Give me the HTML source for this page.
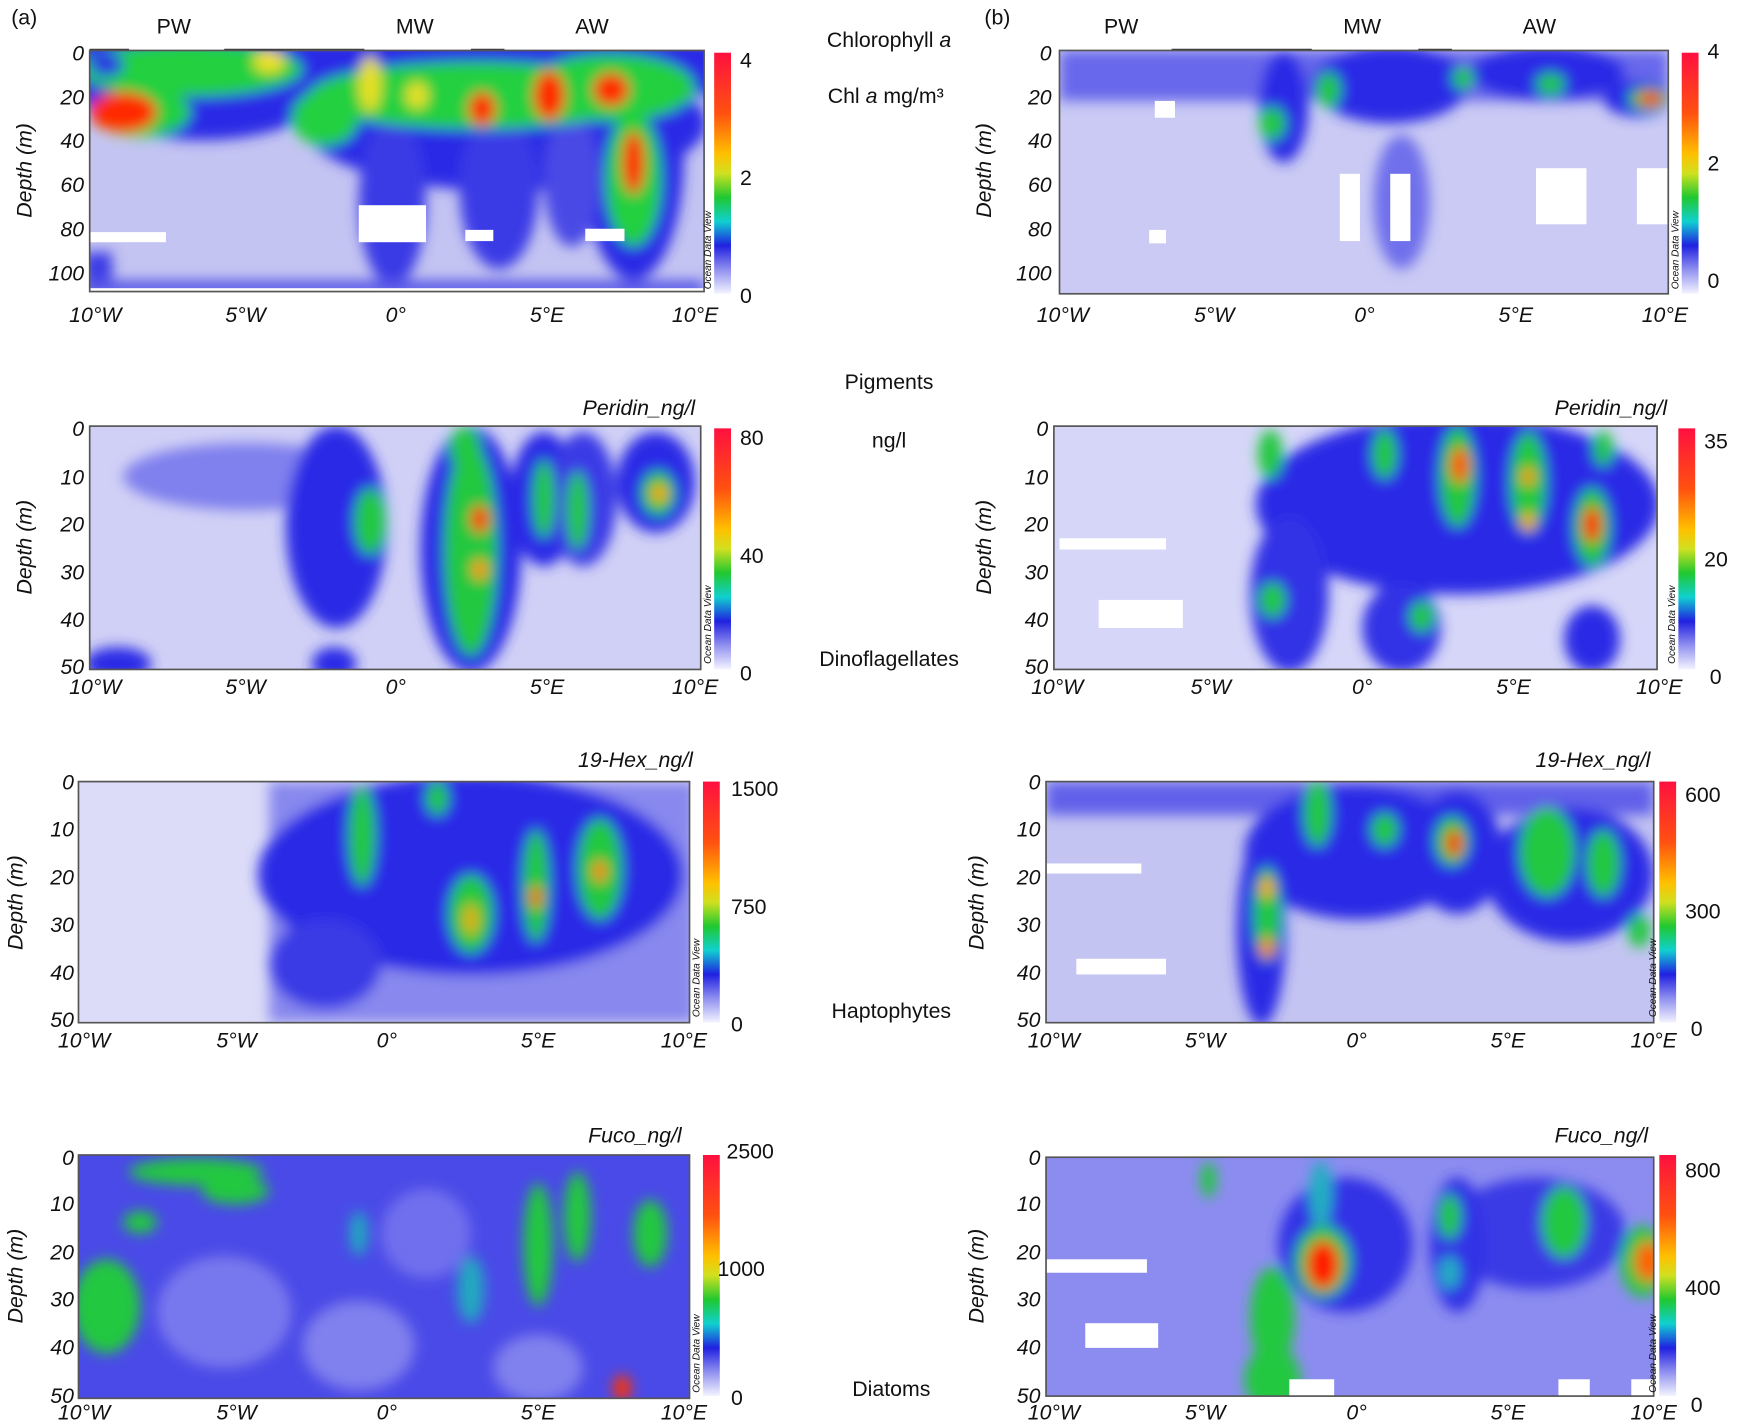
<!DOCTYPE html>
<html><head><meta charset="utf-8"><style>
html,body{margin:0;padding:0;background:#fff;}
svg{display:block;}
text{font-family:"Liberation Sans",Arial,sans-serif;fill:#111;}
.t{font-size:19px;font-style:italic;}
.c{font-size:19px;}
.o{font-size:9px;font-style:italic;}
</style></head><body>
<svg width="1749" height="1423" viewBox="0 0 1560 1269" preserveAspectRatio="none" xmlns="http://www.w3.org/2000/svg">
<defs>
<filter id="b" x="-20%" y="-20%" width="140%" height="140%"><feGaussianBlur stdDeviation="6"/></filter>
<linearGradient id="cb" x1="0" y1="0" x2="0" y2="1">
<stop offset="0" stop-color="#ff1040"/><stop offset="0.25" stop-color="#ff5010"/><stop offset="0.42" stop-color="#ffc000"/>
<stop offset="0.5" stop-color="#d0e020"/><stop offset="0.6" stop-color="#20c830"/><stop offset="0.7" stop-color="#10d0d0"/>
<stop offset="0.8" stop-color="#2020e0"/><stop offset="0.9" stop-color="#9090f0"/><stop offset="1" stop-color="#f4f4ff"/>
</linearGradient>
<clipPath id="p1"><rect x="80" y="45" width="548" height="215"/></clipPath>
<clipPath id="p2"><rect x="80" y="380" width="545" height="217"/></clipPath>
<clipPath id="p3"><rect x="70" y="697" width="545" height="215"/></clipPath>
<clipPath id="p4"><rect x="70" y="1030" width="545" height="217"/></clipPath>
<clipPath id="q1"><rect x="945" y="45" width="543" height="217"/></clipPath>
<clipPath id="q2"><rect x="940" y="380" width="538" height="217"/></clipPath>
<clipPath id="q3"><rect x="933" y="697" width="542" height="215"/></clipPath>
<clipPath id="q4"><rect x="933" y="1032" width="542" height="213"/></clipPath>
</defs>

<text x="10" y="22" class="c">(a)</text>
<text x="155" y="30" class="c" text-anchor="middle">PW</text>
<text x="370" y="30" class="c" text-anchor="middle">MW</text>
<text x="528" y="30" class="c" text-anchor="middle">AW</text>
<text x="878" y="22" class="c">(b)</text>
<text x="1000" y="30" class="c" text-anchor="middle">PW</text>
<text x="1215" y="30" class="c" text-anchor="middle">MW</text>
<text x="1373" y="30" class="c" text-anchor="middle">AW</text>
<g stroke="#333" stroke-width="3"><line x1="80" y1="45" x2="115" y2="45"/><line x1="200" y1="45" x2="325" y2="45"/><line x1="420" y1="45" x2="450" y2="45"/><line x1="1045" y1="45" x2="1170" y2="45"/><line x1="1265" y1="45" x2="1295" y2="45"/></g>

<text x="793" y="42" class="c" text-anchor="middle">Chlorophyll <tspan font-style="italic">a</tspan></text>
<text x="790" y="92" class="c" text-anchor="middle">Chl <tspan font-style="italic">a</tspan> mg/m³</text>
<text x="793" y="347" class="c" text-anchor="middle">Pigments</text>
<text x="793" y="399" class="c" text-anchor="middle">ng/l</text>
<text x="793" y="594" class="c" text-anchor="middle">Dinoflagellates</text>
<text x="795" y="908" class="c" text-anchor="middle">Haptophytes</text>
<text x="795" y="1245" class="c" text-anchor="middle">Diatoms</text>

<text x="620" y="370" class="t" text-anchor="end">Peridin_ng/l</text>
<text x="1487" y="370" class="t" text-anchor="end">Peridin_ng/l</text>
<text x="618" y="684" class="t" text-anchor="end">19-Hex_ng/l</text>
<text x="1472" y="684" class="t" text-anchor="end">19-Hex_ng/l</text>
<text x="608" y="1019" class="t" text-anchor="end">Fuco_ng/l</text>
<text x="1470" y="1019" class="t" text-anchor="end">Fuco_ng/l</text>

<!-- PANEL a1 -->
<g clip-path="url(#p1)">
<rect x="80" y="45" width="548" height="215" fill="#c4c4f2"/>
<g filter="url(#b)">
<rect x="70" y="35" width="570" height="50" fill="#2a2ae6"/>
<ellipse cx="180" cy="80" rx="110" ry="45" fill="#2a2ae6"/>
<ellipse cx="450" cy="110" rx="180" ry="60" fill="#2a2ae6"/>
<ellipse cx="565" cy="140" rx="45" ry="110" fill="#2a2ae6"/>
<ellipse cx="350" cy="180" rx="30" ry="75" fill="#3a3ae6"/>
<ellipse cx="445" cy="170" rx="35" ry="70" fill="#3a3ae6"/>
<ellipse cx="510" cy="160" rx="25" ry="60" fill="#4a4ae6"/>
<rect x="75" y="225" width="25" height="40" fill="#3a3ae6"/>
<rect x="80" y="250" width="548" height="15" fill="#5a5ae8"/>
<ellipse cx="170" cy="62" rx="100" ry="24" fill="#20d040"/>
<ellipse cx="125" cy="100" rx="45" ry="22" fill="#20d040"/>
<ellipse cx="425" cy="85" rx="150" ry="30" fill="#20d040"/>
<ellipse cx="290" cy="105" rx="30" ry="25" fill="#20d040"/>
<ellipse cx="545" cy="78" rx="75" ry="30" fill="#20d040"/>
<ellipse cx="565" cy="160" rx="25" ry="60" fill="#20d040"/>
<ellipse cx="240" cy="55" rx="14" ry="10" fill="#f0e020"/>
<ellipse cx="330" cy="75" rx="10" ry="25" fill="#e8e020"/>
<ellipse cx="372" cy="85" rx="10" ry="12" fill="#e8e020"/>
<ellipse cx="110" cy="100" rx="30" ry="18" fill="#ff2a00"/>
<ellipse cx="430" cy="97" rx="12" ry="15" fill="#ff2a00"/>
<ellipse cx="490" cy="85" rx="14" ry="22" fill="#ff2a00"/>
<ellipse cx="545" cy="80" rx="16" ry="15" fill="#ff2a00"/>
<ellipse cx="565" cy="145" rx="10" ry="28" fill="#ff2a00"/>
<ellipse cx="95" cy="58" rx="15" ry="10" fill="#2a2ae6"/>
</g>
<g fill="#fff"><rect x="80" y="207" width="68" height="9"/><rect x="320" y="183" width="60" height="33"/><rect x="415" y="205" width="25" height="10"/><rect x="522" y="204" width="35" height="11"/><rect x="80" y="257" width="548" height="5"/></g>
</g>
<rect x="80" y="45" width="548" height="215" fill="none" stroke="#555" stroke-width="1.5"/>

<!-- PANEL a2 -->
<g clip-path="url(#p2)">
<rect x="80" y="380" width="545" height="217" fill="#d0d0f6"/>
<g filter="url(#b)">
<ellipse cx="220" cy="425" rx="110" ry="30" fill="#8080ee"/>
<ellipse cx="300" cy="470" rx="45" ry="90" fill="#2a2ae6"/>
<ellipse cx="420" cy="490" rx="45" ry="110" fill="#2a2ae6"/>
<ellipse cx="485" cy="445" rx="30" ry="60" fill="#2a2ae6"/>
<ellipse cx="520" cy="445" rx="30" ry="60" fill="#3a3ae6"/>
<ellipse cx="585" cy="430" rx="35" ry="45" fill="#2a2ae6"/>
<ellipse cx="105" cy="592" rx="30" ry="15" fill="#2a2ae6"/>
<ellipse cx="298" cy="592" rx="20" ry="15" fill="#2a2ae6"/>
<ellipse cx="420" cy="490" rx="24" ry="95" fill="#20c840"/>
<ellipse cx="415" cy="400" rx="14" ry="20" fill="#20c840"/>
<ellipse cx="330" cy="465" rx="14" ry="30" fill="#20c840"/>
<ellipse cx="485" cy="445" rx="10" ry="35" fill="#20c840"/>
<ellipse cx="515" cy="455" rx="10" ry="35" fill="#20c840"/>
<ellipse cx="587" cy="440" rx="15" ry="20" fill="#20c840"/>
<ellipse cx="428" cy="463" rx="8" ry="12" fill="#ff2a00"/>
<ellipse cx="428" cy="508" rx="7" ry="9" fill="#ff9000"/>
<ellipse cx="588" cy="440" rx="7" ry="8" fill="#ffa000"/>
</g></g>
<rect x="80" y="380" width="545" height="217" fill="none" stroke="#555" stroke-width="1.5"/>

<!-- PANEL a3 -->
<g clip-path="url(#p3)">
<rect x="70" y="697" width="545" height="215" fill="#dcdcf8"/>
<g filter="url(#b)">
<rect x="240" y="697" width="380" height="215" fill="#8888ee"/>
<ellipse cx="420" cy="780" rx="190" ry="90" fill="#2a2ae6"/>
<ellipse cx="290" cy="860" rx="50" ry="40" fill="#3a3ae6"/>
<ellipse cx="323" cy="745" rx="12" ry="45" fill="#20c840"/>
<ellipse cx="420" cy="815" rx="20" ry="35" fill="#20c840"/>
<ellipse cx="478" cy="790" rx="12" ry="50" fill="#20c840"/>
<ellipse cx="535" cy="775" rx="20" ry="45" fill="#20c840"/>
<ellipse cx="390" cy="712" rx="10" ry="15" fill="#20c840"/>
<ellipse cx="420" cy="820" rx="7" ry="14" fill="#e0b000"/>
<ellipse cx="478" cy="800" rx="5" ry="10" fill="#ff5000"/>
<ellipse cx="535" cy="777" rx="6" ry="10" fill="#ff8000"/>
</g></g>
<rect x="70" y="697" width="545" height="215" fill="none" stroke="#555" stroke-width="1.5"/>

<!-- PANEL a4 -->
<g clip-path="url(#p4)">
<rect x="70" y="1030" width="545" height="217" fill="#4a4ae8"/>
<g filter="url(#b)">
<ellipse cx="200" cy="1170" rx="60" ry="50" fill="#7878ee"/>
<ellipse cx="320" cy="1200" rx="50" ry="40" fill="#8080ee"/>
<ellipse cx="380" cy="1100" rx="40" ry="40" fill="#7070ee"/>
<ellipse cx="480" cy="1220" rx="40" ry="30" fill="#8080ee"/>
<ellipse cx="95" cy="1165" rx="30" ry="42" fill="#20c840"/>
<ellipse cx="175" cy="1045" rx="60" ry="12" fill="#20c840"/>
<ellipse cx="210" cy="1062" rx="30" ry="12" fill="#20c840"/>
<ellipse cx="125" cy="1090" rx="15" ry="10" fill="#20c840"/>
<ellipse cx="480" cy="1110" rx="13" ry="55" fill="#20c840"/>
<ellipse cx="515" cy="1085" rx="12" ry="40" fill="#20c840"/>
<ellipse cx="580" cy="1100" rx="15" ry="30" fill="#20c840"/>
<ellipse cx="420" cy="1150" rx="12" ry="30" fill="#20a8c0"/>
<ellipse cx="320" cy="1100" rx="8" ry="20" fill="#20a8c0"/>
<ellipse cx="555" cy="1238" rx="8" ry="12" fill="#ff3000"/>
</g></g>
<rect x="70" y="1030" width="545" height="217" fill="none" stroke="#555" stroke-width="1.5"/>

<!-- PANEL b1 -->
<g clip-path="url(#q1)">
<rect x="945" y="45" width="543" height="217" fill="#cacaf4"/>
<g filter="url(#b)">
<rect x="945" y="45" width="543" height="45" fill="#6868ec"/>
<ellipse cx="1145" cy="95" rx="22" ry="50" fill="#2a2ae6"/>
<ellipse cx="1240" cy="75" rx="70" ry="35" fill="#2a2ae6"/>
<ellipse cx="1250" cy="180" rx="25" ry="60" fill="#7070ec"/>
<ellipse cx="1380" cy="65" rx="70" ry="25" fill="#2a2ae6"/>
<ellipse cx="1460" cy="88" rx="30" ry="16" fill="#2a2ae6"/>
<ellipse cx="1135" cy="110" rx="12" ry="15" fill="#20c840"/>
<ellipse cx="1185" cy="80" rx="11" ry="16" fill="#20c840"/>
<ellipse cx="1305" cy="70" rx="10" ry="10" fill="#20c840"/>
<ellipse cx="1383" cy="75" rx="13" ry="10" fill="#20c840"/>
<ellipse cx="1470" cy="88" rx="18" ry="10" fill="#20c840"/>
<ellipse cx="1472" cy="88" rx="11" ry="6" fill="#ff2a00"/>
</g>
<g fill="#fff"><rect x="1030" y="90" width="18" height="15"/><rect x="1195" y="155" width="18" height="60"/><rect x="1240" y="155" width="18" height="60"/><rect x="1370" y="150" width="45" height="50"/><rect x="1460" y="150" width="28" height="50"/><rect x="1025" y="205" width="15" height="12"/></g>
</g>
<rect x="945" y="45" width="543" height="217" fill="none" stroke="#555" stroke-width="1.5"/>

<!-- PANEL b2 -->
<g clip-path="url(#q2)">
<rect x="940" y="380" width="538" height="217" fill="#d6d6f8"/>
<g filter="url(#b)">
<ellipse cx="1300" cy="450" rx="180" ry="80" fill="#2a2ae6"/>
<ellipse cx="1150" cy="530" rx="35" ry="70" fill="#3030e6"/>
<ellipse cx="1420" cy="570" rx="25" ry="30" fill="#2a2ae6"/>
<ellipse cx="1250" cy="560" rx="35" ry="40" fill="#3030e6"/>
<ellipse cx="1133" cy="405" rx="11" ry="22" fill="#20c840"/>
<ellipse cx="1235" cy="405" rx="11" ry="22" fill="#20c840"/>
<ellipse cx="1300" cy="425" rx="16" ry="45" fill="#20c840"/>
<ellipse cx="1363" cy="430" rx="16" ry="45" fill="#20c840"/>
<ellipse cx="1420" cy="470" rx="16" ry="35" fill="#20c840"/>
<ellipse cx="1430" cy="400" rx="9" ry="16" fill="#20c840"/>
<ellipse cx="1135" cy="535" rx="12" ry="16" fill="#20c840"/>
<ellipse cx="1268" cy="550" rx="11" ry="14" fill="#20c840"/>
<ellipse cx="1302" cy="415" rx="8" ry="16" fill="#ff5000"/>
<ellipse cx="1420" cy="468" rx="8" ry="16" fill="#ff1a00"/>
<ellipse cx="1363" cy="425" rx="6" ry="8" fill="#ff9000"/>
<ellipse cx="1363" cy="465" rx="6" ry="8" fill="#ffa000"/>
</g>
<g fill="#fff"><rect x="945" y="480" width="95" height="10"/><rect x="980" y="535" width="75" height="25"/></g>
</g>
<rect x="940" y="380" width="538" height="217" fill="none" stroke="#555" stroke-width="1.5"/>

<!-- PANEL b3 -->
<g clip-path="url(#q3)">
<rect x="933" y="697" width="542" height="215" fill="#c4c4f2"/>
<g filter="url(#b)">
<rect x="933" y="697" width="542" height="30" fill="#6060ea"/>
<ellipse cx="1210" cy="760" rx="100" ry="60" fill="#2a2ae6"/>
<ellipse cx="1300" cy="760" rx="40" ry="55" fill="#2a2ae6"/>
<ellipse cx="1400" cy="780" rx="75" ry="60" fill="#2a2ae6"/>
<ellipse cx="1125" cy="830" rx="22" ry="85" fill="#2a2ae6"/>
<ellipse cx="1175" cy="725" rx="12" ry="30" fill="#20c840"/>
<ellipse cx="1235" cy="740" rx="12" ry="15" fill="#20c840"/>
<ellipse cx="1295" cy="750" rx="15" ry="22" fill="#20c840"/>
<ellipse cx="1380" cy="760" rx="25" ry="40" fill="#20c840"/>
<ellipse cx="1430" cy="770" rx="15" ry="30" fill="#20c840"/>
<ellipse cx="1462" cy="830" rx="10" ry="15" fill="#20c840"/>
<ellipse cx="1130" cy="815" rx="12" ry="42" fill="#20c840"/>
<ellipse cx="1297" cy="752" rx="7" ry="12" fill="#ff1a00"/>
<ellipse cx="1130" cy="792" rx="6" ry="9" fill="#ffa000"/>
<ellipse cx="1130" cy="845" rx="6" ry="9" fill="#ff8000"/>
</g>
<g fill="#fff"><rect x="933" y="770" width="85" height="9"/><rect x="960" y="855" width="80" height="14"/></g>
</g>
<rect x="933" y="697" width="542" height="215" fill="none" stroke="#555" stroke-width="1.5"/>

<!-- PANEL b4 -->
<g clip-path="url(#q4)">
<rect x="933" y="1032" width="542" height="213" fill="#8c8cf0"/>
<g filter="url(#b)">
<ellipse cx="1200" cy="1110" rx="60" ry="60" fill="#3030e6"/>
<ellipse cx="1370" cy="1100" rx="80" ry="50" fill="#3a3ae6"/>
<ellipse cx="1300" cy="1110" rx="25" ry="60" fill="#3030e6"/>
<ellipse cx="1078" cy="1052" rx="7" ry="16" fill="#20c840"/>
<ellipse cx="1178" cy="1065" rx="10" ry="30" fill="#20b0c0"/>
<ellipse cx="1180" cy="1125" rx="25" ry="32" fill="#20c840"/>
<ellipse cx="1135" cy="1175" rx="20" ry="45" fill="#20c840"/>
<ellipse cx="1135" cy="1230" rx="25" ry="30" fill="#20c840"/>
<ellipse cx="1293" cy="1085" rx="10" ry="20" fill="#20c840"/>
<ellipse cx="1293" cy="1135" rx="9" ry="15" fill="#20b0c0"/>
<ellipse cx="1395" cy="1090" rx="20" ry="32" fill="#20c840"/>
<ellipse cx="1465" cy="1125" rx="20" ry="32" fill="#20c840"/>
<ellipse cx="1180" cy="1128" rx="15" ry="22" fill="#ff1a00"/>
<ellipse cx="1470" cy="1125" rx="12" ry="18" fill="#ff6000"/>
</g>
<g fill="#fff"><rect x="933" y="1123" width="90" height="12"/><rect x="968" y="1180" width="65" height="22"/><rect x="1150" y="1230" width="40" height="15"/><rect x="1390" y="1230" width="28" height="15"/><rect x="1455" y="1230" width="20" height="15"/></g>
</g>
<rect x="933" y="1032" width="542" height="213" fill="none" stroke="#555" stroke-width="1.5"/>

<g>
<rect x="637" y="47" width="15" height="215" fill="url(#cb)"/>
<rect x="637" y="382" width="15" height="215" fill="url(#cb)"/>
<rect x="627" y="697" width="15" height="215" fill="url(#cb)"/>
<rect x="627" y="1030" width="15" height="215" fill="url(#cb)"/>
<rect x="1500" y="47" width="15" height="215" fill="url(#cb)"/>
<rect x="1497" y="382" width="15" height="215" fill="url(#cb)"/>
<rect x="1480" y="697" width="15" height="215" fill="url(#cb)"/>
<rect x="1480" y="1030" width="15" height="215" fill="url(#cb)"/>
</g>
<g>
<text x="660" y="60" class="c">4</text><text x="660" y="165" class="c">2</text><text x="660" y="270" class="c">0</text>
<text x="660" y="397" class="c">80</text><text x="660" y="502" class="c">40</text><text x="660" y="607" class="c">0</text>
<text x="652" y="710" class="c">1500</text><text x="652" y="815" class="c">750</text><text x="652" y="920" class="c">0</text>
<text x="648" y="1033" class="c">2500</text><text x="640" y="1138" class="c">1000</text><text x="652" y="1253" class="c">0</text>
<text x="1523" y="52" class="c">4</text><text x="1523" y="152" class="c">2</text><text x="1523" y="257" class="c">0</text>
<text x="1520" y="400" class="c">35</text><text x="1520" y="505" class="c">20</text><text x="1525" y="610" class="c">0</text>
<text x="1503" y="715" class="c">600</text><text x="1503" y="819" class="c">300</text><text x="1508" y="924" class="c">0</text>
<text x="1503" y="1050" class="c">800</text><text x="1503" y="1155" class="c">400</text><text x="1508" y="1259" class="c">0</text>
</g>
<text class="o" transform="translate(634,258) rotate(-90)">Ocean Data View</text>
<text class="o" transform="translate(634,592) rotate(-90)">Ocean Data View</text>
<text class="o" transform="translate(624,907) rotate(-90)">Ocean Data View</text>
<text class="o" transform="translate(624,1242) rotate(-90)">Ocean Data View</text>
<text class="o" transform="translate(1497,258) rotate(-90)">Ocean Data View</text>
<text class="o" transform="translate(1494,592) rotate(-90)">Ocean Data View</text>
<text class="o" transform="translate(1477,907) rotate(-90)">Ocean Data View</text>
<text class="o" transform="translate(1477,1242) rotate(-90)">Ocean Data View</text>

<text class="t" transform="translate(28,152) rotate(-90)" text-anchor="middle">Depth (m)</text>
<text class="t" transform="translate(28,488) rotate(-90)" text-anchor="middle">Depth (m)</text>
<text class="t" transform="translate(20,805) rotate(-90)" text-anchor="middle">Depth (m)</text>
<text class="t" transform="translate(20,1138) rotate(-90)" text-anchor="middle">Depth (m)</text>
<text class="t" transform="translate(884,152) rotate(-90)" text-anchor="middle">Depth (m)</text>
<text class="t" transform="translate(884,488) rotate(-90)" text-anchor="middle">Depth (m)</text>
<text class="t" transform="translate(877,805) rotate(-90)" text-anchor="middle">Depth (m)</text>
<text class="t" transform="translate(877,1138) rotate(-90)" text-anchor="middle">Depth (m)</text>

<g text-anchor="end">
<text x="75" y="54" class="t">0</text><text x="75" y="93" class="t">20</text><text x="75" y="132" class="t">40</text><text x="75" y="171" class="t">60</text><text x="75" y="211" class="t">80</text><text x="75" y="250" class="t">100</text>
<text x="75" y="389" class="t">0</text><text x="75" y="432" class="t">10</text><text x="75" y="474" class="t">20</text><text x="75" y="517" class="t">30</text><text x="75" y="559" class="t">40</text><text x="75" y="601" class="t">50</text>
<text x="66" y="704" class="t">0</text><text x="66" y="746" class="t">10</text><text x="66" y="789" class="t">20</text><text x="66" y="831" class="t">30</text><text x="66" y="874" class="t">40</text><text x="66" y="916" class="t">50</text>
<text x="66" y="1039" class="t">0</text><text x="66" y="1080" class="t">10</text><text x="66" y="1123" class="t">20</text><text x="66" y="1165" class="t">30</text><text x="66" y="1208" class="t">40</text><text x="66" y="1251" class="t">50</text>
<text x="938" y="54" class="t">0</text><text x="938" y="93" class="t">20</text><text x="938" y="132" class="t">40</text><text x="938" y="171" class="t">60</text><text x="938" y="211" class="t">80</text><text x="938" y="250" class="t">100</text>
<text x="935" y="389" class="t">0</text><text x="935" y="432" class="t">10</text><text x="935" y="474" class="t">20</text><text x="935" y="517" class="t">30</text><text x="935" y="559" class="t">40</text><text x="935" y="601" class="t">50</text>
<text x="928" y="704" class="t">0</text><text x="928" y="746" class="t">10</text><text x="928" y="789" class="t">20</text><text x="928" y="831" class="t">30</text><text x="928" y="874" class="t">40</text><text x="928" y="916" class="t">50</text>
<text x="928" y="1039" class="t">0</text><text x="928" y="1080" class="t">10</text><text x="928" y="1123" class="t">20</text><text x="928" y="1165" class="t">30</text><text x="928" y="1208" class="t">40</text><text x="928" y="1251" class="t">50</text>
</g>

<g text-anchor="middle">
<text x="85" y="287" class="t">10°W</text><text x="219" y="287" class="t">5°W</text><text x="353" y="287" class="t">0°</text><text x="488" y="287" class="t">5°E</text><text x="620" y="287" class="t">10°E</text>
<text x="85" y="619" class="t">10°W</text><text x="219" y="619" class="t">5°W</text><text x="353" y="619" class="t">0°</text><text x="488" y="619" class="t">5°E</text><text x="620" y="619" class="t">10°E</text>
<text x="75" y="934" class="t">10°W</text><text x="211" y="934" class="t">5°W</text><text x="345" y="934" class="t">0°</text><text x="480" y="934" class="t">5°E</text><text x="610" y="934" class="t">10°E</text>
<text x="75" y="1266" class="t">10°W</text><text x="211" y="1266" class="t">5°W</text><text x="345" y="1266" class="t">0°</text><text x="480" y="1266" class="t">5°E</text><text x="610" y="1266" class="t">10°E</text>
<text x="948" y="287" class="t">10°W</text><text x="1083" y="287" class="t">5°W</text><text x="1217" y="287" class="t">0°</text><text x="1352" y="287" class="t">5°E</text><text x="1485" y="287" class="t">10°E</text>
<text x="943" y="619" class="t">10°W</text><text x="1080" y="619" class="t">5°W</text><text x="1215" y="619" class="t">0°</text><text x="1350" y="619" class="t">5°E</text><text x="1480" y="619" class="t">10°E</text>
<text x="940" y="934" class="t">10°W</text><text x="1075" y="934" class="t">5°W</text><text x="1210" y="934" class="t">0°</text><text x="1345" y="934" class="t">5°E</text><text x="1475" y="934" class="t">10°E</text>
<text x="940" y="1266" class="t">10°W</text><text x="1075" y="1266" class="t">5°W</text><text x="1210" y="1266" class="t">0°</text><text x="1345" y="1266" class="t">5°E</text><text x="1475" y="1266" class="t">10°E</text>
</g>
</svg>
</body></html>
